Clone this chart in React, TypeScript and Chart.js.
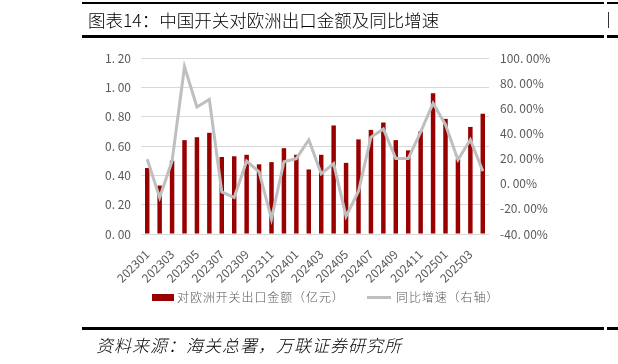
import React, { useEffect, useRef } from "react";
import { Chart, registerables } from "chart.js";

Chart.register(...registerables);

const months = [
  "202301", "202302", "202303", "202304", "202305", "202306", "202307", "202308",
  "202309", "202310", "202311", "202312", "202401", "202402", "202403", "202404",
  "202405", "202406", "202407", "202408", "202409", "202410", "202411", "202412",
  "202501", "202502", "202503", "202504",
];

// 对欧洲开关出口金额（亿元）
const amounts = [
  0.45, 0.33, 0.5, 0.64, 0.66, 0.69, 0.525, 0.53,
  0.54, 0.475, 0.49, 0.585, 0.54, 0.44, 0.54, 0.74,
  0.485, 0.645, 0.71, 0.76, 0.64, 0.57, 0.7, 0.96,
  0.785, 0.51, 0.73, 0.82,
];

// 同比增速（%）
const growth = [
  19.4, -11, 18, 93, 61, 67, -6.5, -11,
  18, 9.5, -28, 17.5, 20, 35, 8, 16,
  -26, -6, 37, 43.5, 20, 20, 41, 64,
  47, 19, 35, 10,
];

const titleText = "图表14：中国开关对欧洲出口金额及同比增速";
const barLabel = "对欧洲开关出口金额（亿元）";
const lineLabel = "同比增速（右轴）";
const sourceText = "资料来源：海关总署，万联证券研究所";

const FONT = '"Noto Sans CJK SC", "Noto Sans", sans-serif';

export default function App() {
  const ref = useRef<HTMLCanvasElement | null>(null);

  useEffect(() => {
    document.body.style.margin = "0";
    const canvas = ref.current;
    if (!canvas) return;
    const chart = new Chart(canvas, {
      type: "bar",
      data: {
        labels: months,
        datasets: [
          {
            type: "line",
            label: lineLabel,
            data: growth,
            yAxisID: "y1",
            borderColor: "#BFBFBF",
            backgroundColor: "#BFBFBF",
            borderWidth: 3,
            pointRadius: 0,
            tension: 0,
            order: 0,
          } as any,
          {
            type: "bar",
            label: barLabel,
            data: amounts,
            yAxisID: "y",
            backgroundColor: "#990000",
            barPercentage: 0.36,
            categoryPercentage: 1,
            order: 1,
          } as any,
        ],
      },
      options: {
        responsive: false,
        animation: false,
        devicePixelRatio: 1,
        layout: { padding: { top: 58, left: 0, right: 0, bottom: 0 } },
        plugins: {
          legend: { display: false },
          tooltip: { enabled: false },
          title: { display: false },
        },
        scales: {
          x: {
            grid: { display: false },
            border: { display: false },
            ticks: {
              autoSkip: false,
              minRotation: 45,
              maxRotation: 45,
              padding: 5,
              color: "#595959",
              font: { family: FONT, size: 12 },
              callback: (_v: any, i: number) => (i % 2 === 0 ? months[i] : ""),
            },
            afterFit: (s: any) => {
              s.height = 130;
            },
          },
          y: {
            position: "left",
            min: 0,
            max: 1.2,
            grid: { color: "#D9D9D9", lineWidth: 1, drawTicks: false },
            border: { display: false },
            ticks: {
              stepSize: 0.2,
              padding: 10,
              color: "#595959",
              font: { family: FONT, size: 12 },
              callback: (v: any) => Number(v).toFixed(2).replace(".", ". "),
            },
            afterFit: (s: any) => {
              s.width = 141;
            },
          },
          y1: {
            position: "right",
            min: -40,
            max: 100,
            grid: { display: false, drawTicks: false },
            border: { display: false },
            ticks: {
              stepSize: 20,
              padding: 11,
              color: "#595959",
              font: { family: FONT, size: 12 },
              callback: (v: any) => Number(v).toFixed(2).replace(".", ". ") + "%",
            },
            afterFit: (s: any) => {
              s.width = 129;
            },
          },
        },
      },
    });
    return () => chart.destroy();
  }, []);

  const abs = (o: React.CSSProperties): React.CSSProperties => ({ position: "absolute", ...o });

  return (
    <div style={{ position: "fixed", left: 0, top: 0, width: 618, height: 364, background: "#fff", overflow: "hidden" }}>
      <canvas ref={ref} width={618} height={364} style={abs({ left: 0, top: 0, width: 618, height: 364 })} />
      {/* top rules */}
      <div style={abs({ left: 82, top: 2, width: 522, height: 2, background: "#000" })} />
      <div style={abs({ left: 607, top: 2, width: 11, height: 2, background: "#000" })} />
      <div style={abs({ left: 82, top: 35, width: 522, height: 3, background: "#000" })} />
      <div style={abs({ left: 607, top: 35, width: 11, height: 3, background: "#000" })} />
      <div style={abs({ left: 608, top: 12, width: 1, height: 16, background: "#333" })} />
      <div
        style={abs({
          left: 88,
          top: 8,
          fontFamily: FONT,
          fontSize: 17.5,
          fontWeight: 300,
          lineHeight: "24px",
          color: "#000",
          whiteSpace: "nowrap",
        })}
      >
        {titleText}
      </div>
      {/* legend */}
      <div style={abs({ left: 152, top: 294, width: 22, height: 7, background: "#990000" })} />
      <div style={abs({ left: 177, top: 289, fontFamily: FONT, fontSize: 12, fontWeight: 300, letterSpacing: "0.9px", lineHeight: "16px", color: "#595959", whiteSpace: "nowrap" })}>
        {barLabel}
      </div>
      <div style={abs({ left: 367, top: 296, width: 24, height: 3, background: "#BFBFBF" })} />
      <div style={abs({ left: 396, top: 289, fontFamily: FONT, fontSize: 12, fontWeight: 300, letterSpacing: "0.9px", lineHeight: "16px", color: "#595959", whiteSpace: "nowrap" })}>
        {lineLabel}
      </div>
      {/* footer */}
      <div style={abs({ left: 82, top: 327, width: 522, height: 3, background: "#000" })} />
      <div style={abs({ left: 607, top: 327, width: 11, height: 3, background: "#000" })} />
      <div
        style={abs({
          left: 96,
          top: 334,
          fontFamily: FONT,
          fontSize: 17,
          fontStyle: "italic",
          fontWeight: 300,
          letterSpacing: "1px",
          lineHeight: "22px",
          color: "#000",
          whiteSpace: "nowrap",
        })}
      >
        {sourceText}
      </div>
    </div>
  );
}
